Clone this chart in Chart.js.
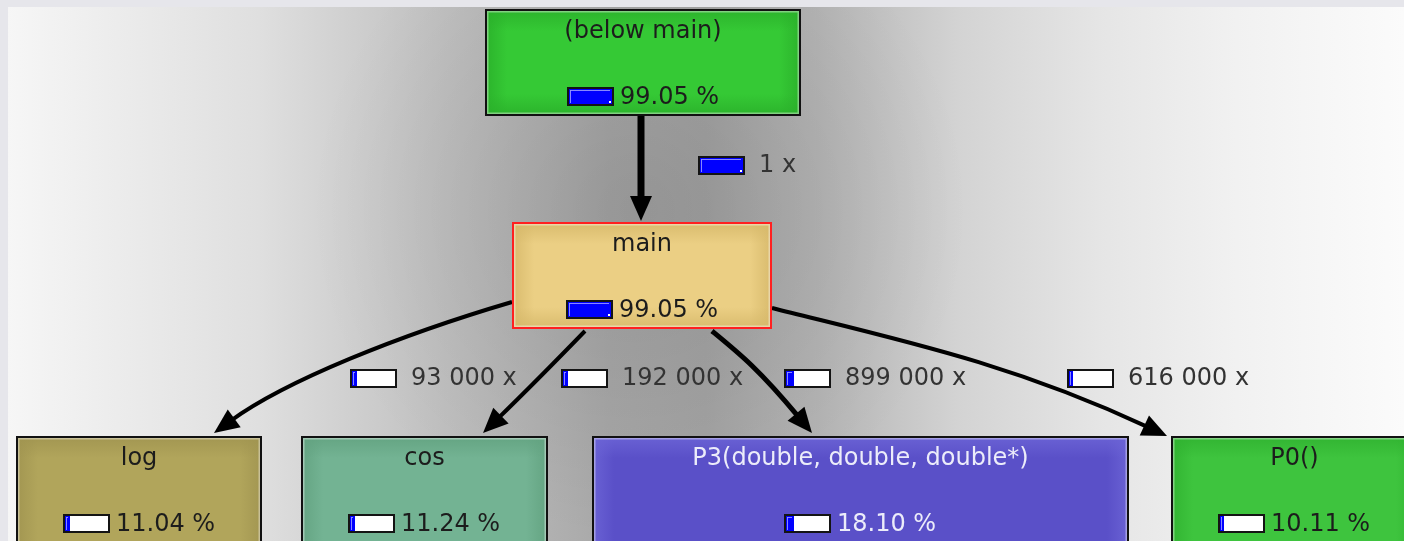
<!DOCTYPE html>
<html><head><meta charset="utf-8">
<script src="https://cdn.jsdelivr.net/npm/chart.js@4.4.1/dist/chart.umd.min.js"></script>
<style>html,body{margin:0;padding:0;background:#e6e6eb;overflow:hidden}#wrap{position:relative;width:1404px;height:541px}canvas{display:block}</style>
</head><body><div id="wrap"><canvas id="c" width="1404" height="541"></canvas></div>
<script>
// ---- data ----
const nodeNames = ["(below main)", "main", "log", "cos", "P3(double, double, double*)", "P0()"];
const nodePercents = [99.05, 99.05, 11.04, 11.24, 18.10, 10.11];
const edgeFrom = [0, 1, 1, 1, 1];
const edgeTo = [1, 2, 3, 4, 5];
const edgeCalls = [1, 93000, 192000, 899000, 616000];

// ---- layout & styles (diagram units == chart scale units) ----
const layout = {
  boxes: [[485, 9, 801, 116], [512, 222, 772, 329], [16, 436, 262, 580], [301, 436, 548, 580], [592, 436, 1129, 580], [1171, 436, 1418, 580]],
  fills: ["#35c935", "#ebcf84", "#b1a55b", "#73b393", "#5a50c8", "#3ec43e"],
  shades: ["rgba(42,176,42,", "rgba(214,184,106,", "rgba(160,148,80,", "rgba(98,162,128,", "rgba(108,100,214,", "rgba(48,178,48,"],
  borders: ["#111", "#ff2020", "#111", "#111", "#111", "#111"],
  textColors: ["#1c1c1c", "#1c1c1c", "#1c1c1c", "#1c1c1c", "#ececfa", "#1c1c1c"],
  // edge paths: start, control1, control2, arrow tip
  paths: [
    [[641, 116], [641, 150], [641, 190], [641, 221]],
    [[512, 302], [400, 335], [269, 393], [214, 433]],
    [[585, 331], [552, 365], [518, 399], [483, 433]],
    [[712, 331], [740, 354], [772, 385], [812, 433]],
    [[772, 308], [900, 340], [1030, 372], [1167, 436]]
  ],
  widths: [7, 4, 4, 5, 4],
  labelPos: [[698, 165], [350, 378], [561, 378], [784, 378], [1067, 378]]
};

const FONT = '24px "DejaVu Sans", sans-serif';
const fmtCalls = n => String(n).replace(/\B(?=(\d{3})+(?!\d))/g, ' ') + ' x';
const fmtPct = p => p.toFixed(2) + ' %';

function drawBar(ctx, x, yc, frac) {
  const w = 47, h = 19, y = Math.round(yc - h / 2);
  ctx.fillStyle = '#ffffff';
  ctx.fillRect(x, y, w, h);
  const bw = Math.max(3, Math.round((w - 4) * frac));
  ctx.fillStyle = '#0000ff';
  ctx.fillRect(x + 2, y + 2, bw, h - 4);
  ctx.fillStyle = 'rgba(150,150,255,0.9)';
  ctx.fillRect(x + 3, y + 3, Math.max(1, bw - 3), 1);
  ctx.fillRect(x + 3, y + 3, 1, h - 6);
  if (frac > 0.95) { ctx.fillStyle = '#ffffff'; ctx.fillRect(x + w - 5, y + h - 5, 2, 2); }
  ctx.strokeStyle = '#141414';
  ctx.lineWidth = 2;
  ctx.strokeRect(x + 1, y + 1, w - 2, h - 2);
}

function drawNode(ctx, i, X, Y) {
  const b = layout.boxes[i];
  const x0 = X(b[0]), y0 = Y(b[1]), x1 = X(b[2]), y1 = Y(b[3]);
  const w = x1 - x0, h = y1 - y0;
  ctx.fillStyle = layout.fills[i];
  ctx.fillRect(x0, y0, w, h);
  const s = layout.shades[i], d = 22;
  let g;
  g = ctx.createLinearGradient(x0, 0, x0 + d, 0); g.addColorStop(0, s + '0.9)'); g.addColorStop(1, s + '0)');
  ctx.fillStyle = g; ctx.fillRect(x0, y0, d, h);
  g = ctx.createLinearGradient(x1, 0, x1 - d, 0); g.addColorStop(0, s + '0.9)'); g.addColorStop(1, s + '0)');
  ctx.fillStyle = g; ctx.fillRect(x1 - d, y0, d, h);
  g = ctx.createLinearGradient(0, y0, 0, y0 + d); g.addColorStop(0, s + '0.9)'); g.addColorStop(1, s + '0)');
  ctx.fillStyle = g; ctx.fillRect(x0, y0, w, d);
  g = ctx.createLinearGradient(0, y1, 0, y1 - d); g.addColorStop(0, s + '0.9)'); g.addColorStop(1, s + '0)');
  ctx.fillStyle = g; ctx.fillRect(x0, y1 - d, w, d);
  ctx.strokeStyle = 'rgba(255,255,255,0.4)';
  ctx.lineWidth = 1.5;
  ctx.strokeRect(x0 + 2.75, y0 + 2.75, w - 5.5, h - 5.5);
  ctx.strokeStyle = layout.borders[i];
  ctx.lineWidth = 2;
  ctx.strokeRect(x0 + 1, y0 + 1, w - 2, h - 2);
  // texts
  const cx = (x0 + x1) / 2;
  ctx.font = FONT;
  ctx.textBaseline = 'middle';
  ctx.fillStyle = layout.textColors[i];
  ctx.textAlign = 'center';
  ctx.fillText(nodeNames[i], cx, y0 + 23);
  const pct = fmtPct(nodePercents[i]);
  const tw = ctx.measureText(pct).width;
  const gw = 47 + 6 + tw;
  const gx = Math.round(cx - gw / 2);
  drawBar(ctx, gx, y0 + 87, nodePercents[i] / 100);
  ctx.fillStyle = layout.textColors[i];
  ctx.textAlign = 'left';
  ctx.fillText(pct, gx + 53, y0 + 89);
}

function drawEdge(ctx, k, X, Y) {
  const p = layout.paths[k].map(q => [X(q[0]), Y(q[1])]);
  const tip = p[3];
  let dx = tip[0] - p[2][0], dy = tip[1] - p[2][1];
  const len = Math.hypot(dx, dy); dx /= len; dy /= len;
  const L = 25, hw = 11;
  const base = [tip[0] - dx * L, tip[1] - dy * L];
  const endL = [tip[0] - dx * (L - 4), tip[1] - dy * (L - 4)];
  const shift = [endL[0] - tip[0], endL[1] - tip[1]];
  ctx.strokeStyle = '#000';
  ctx.lineWidth = layout.widths[k];
  ctx.lineCap = 'butt';
  ctx.beginPath();
  ctx.moveTo(p[0][0], p[0][1]);
  ctx.bezierCurveTo(p[1][0], p[1][1], p[2][0] + shift[0], p[2][1] + shift[1], endL[0], endL[1]);
  ctx.stroke();
  ctx.fillStyle = '#000';
  ctx.beginPath();
  ctx.moveTo(tip[0], tip[1]);
  ctx.lineTo(base[0] - dy * hw, base[1] + dx * hw);
  ctx.lineTo(base[0] + dy * hw, base[1] - dx * hw);
  ctx.closePath();
  ctx.fill();
}

function drawEdgeLabel(ctx, k, X, Y) {
  const lp = layout.labelPos[k];
  const x = X(lp[0]), y = Y(lp[1]);
  drawBar(ctx, Math.round(x), y, nodePercents[edgeTo[k]] / 100);
  ctx.font = FONT;
  ctx.textBaseline = 'middle';
  ctx.textAlign = 'left';
  ctx.fillStyle = '#333333';
  ctx.fillText(fmtCalls(edgeCalls[k]), x + 61, y + 1);
}

const graphPlugin = {
  id: 'callgraph',
  beforeDraw(chart) {
    const ctx = chart.ctx, W = chart.width, H = chart.height;
    ctx.save();
    ctx.fillStyle = '#e6e6eb';
    ctx.fillRect(0, 0, W, H);
    const g = ctx.createLinearGradient(8, 0, W, 0);
    g.addColorStop(0.00, '#f6f6f6');
    g.addColorStop(0.18, '#dfdfdf');
    g.addColorStop(0.32, '#bebebe');
    g.addColorStop(0.43, '#a8a8a8');
    g.addColorStop(0.50, '#a4a4a4');
    g.addColorStop(0.58, '#b4b4b4');
    g.addColorStop(0.68, '#d3d3d3');
    g.addColorStop(0.78, '#e5e5e5');
    g.addColorStop(0.88, '#f1f1f1');
    g.addColorStop(1.00, '#fbfbfb');
    ctx.fillStyle = g;
    ctx.fillRect(8, 7, W - 8, H - 7);
    const r = ctx.createRadialGradient(640, 210, 10, 640, 210, 330);
    r.addColorStop(0, 'rgba(0,0,0,0.10)');
    r.addColorStop(1, 'rgba(0,0,0,0)');
    ctx.fillStyle = r;
    ctx.fillRect(8, 7, W - 8, H - 7);
    ctx.restore();
  },
  afterDatasetsDraw(chart) {
    const ctx = chart.ctx;
    const X = v => chart.scales.x.getPixelForValue(v);
    const Y = v => chart.scales.y.getPixelForValue(v);
    ctx.save();
    for (let k = 0; k < edgeFrom.length; k++) drawEdge(ctx, k, X, Y);
    for (let i = 0; i < nodeNames.length; i++) drawNode(ctx, i, X, Y);
    for (let k = 0; k < edgeFrom.length; k++) drawEdgeLabel(ctx, k, X, Y);
    ctx.restore();
  }
};

new Chart(document.getElementById('c'), {
  type: 'scatter',
  data: {
    datasets: [{
      label: 'nodes',
      data: layout.boxes.map((b, i) => ({ x: (b[0] + b[2]) / 2, y: (b[1] + b[3]) / 2, name: nodeNames[i] })),
      pointRadius: 0
    }]
  },
  options: {
    responsive: false,
    animation: false,
    events: [],
    layout: { padding: 0 },
    plugins: { legend: { display: false }, tooltip: { enabled: false } },
    scales: {
      x: { type: 'linear', min: 0, max: 1404, display: false },
      y: { type: 'linear', min: 0, max: 541, reverse: true, display: false }
    }
  },
  plugins: [graphPlugin]
});
</script>
</body></html>
